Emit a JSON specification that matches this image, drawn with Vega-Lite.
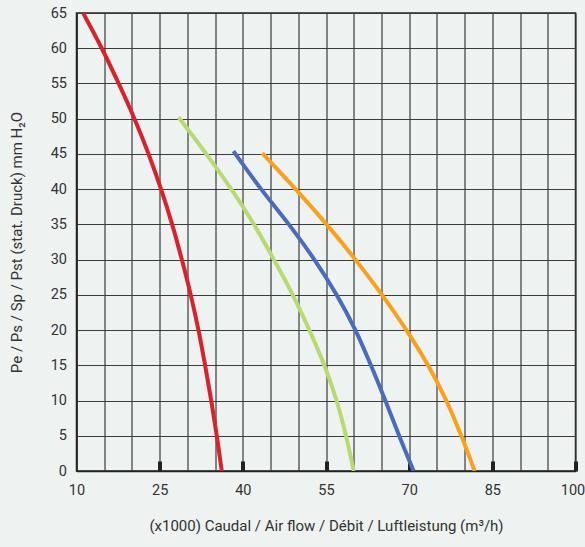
{
  "$schema": "https://vega.github.io/schema/vega-lite/v6.json",
  "autosize": "none",
  "width": 499,
  "height": 458,
  "padding": {"left": 76.5, "top": 13, "right": 9.5, "bottom": 76},
  "background": "#eef2f1",
  "config": {
    "font": "Roboto",
    "view": {"stroke": "#222222", "strokeWidth": 1.5},
    "axis": {"labelFont": "Roboto", "titleFont": "Roboto", "labelColor": "#333333", "titleColor": "#333333", "labelFontSize": 14.5, "titleFontSize": 15, "titleFontWeight": "normal", "domainColor": "#222222", "domainWidth": 1.5, "gridColor": "#3c3c3c", "gridWidth": 1.2, "gridOpacity": 1}
  },
  "data": {"values": [
    {"s": "a", "x": 11.2, "y": 65}, {"s": "a", "x": 14.55, "y": 60}, {"s": "a", "x": 17.6, "y": 55}, {"s": "a", "x": 20.45, "y": 50}, {"s": "a", "x": 23.0, "y": 45}, {"s": "a", "x": 25.25, "y": 40}, {"s": "a", "x": 27.25, "y": 35}, {"s": "a", "x": 29.0, "y": 30}, {"s": "a", "x": 30.6, "y": 25}, {"s": "a", "x": 32.0, "y": 20}, {"s": "a", "x": 33.2, "y": 15}, {"s": "a", "x": 34.3, "y": 10}, {"s": "a", "x": 35.3, "y": 5}, {"s": "a", "x": 36.2, "y": 0},
    {"s": "b", "x": 28.4, "y": 50.2}, {"s": "b", "x": 33.4, "y": 45}, {"s": "b", "x": 37.9, "y": 40}, {"s": "b", "x": 42.0, "y": 35}, {"s": "b", "x": 45.6, "y": 30}, {"s": "b", "x": 49.0, "y": 25}, {"s": "b", "x": 52.0, "y": 20}, {"s": "b", "x": 54.7, "y": 15}, {"s": "b", "x": 56.9, "y": 10}, {"s": "b", "x": 58.6, "y": 5}, {"s": "b", "x": 60.0, "y": 0},
    {"s": "c", "x": 38.3, "y": 45.4}, {"s": "c", "x": 43.3, "y": 40}, {"s": "c", "x": 48.3, "y": 35}, {"s": "c", "x": 52.9, "y": 30}, {"s": "c", "x": 56.9, "y": 25}, {"s": "c", "x": 60.3, "y": 20}, {"s": "c", "x": 63.1, "y": 15}, {"s": "c", "x": 65.7, "y": 10}, {"s": "c", "x": 68.2, "y": 5}, {"s": "c", "x": 70.8, "y": 0},
    {"s": "d", "x": 43.5, "y": 45.1}, {"s": "d", "x": 49.5, "y": 40}, {"s": "d", "x": 55.1, "y": 35}, {"s": "d", "x": 60.3, "y": 30}, {"s": "d", "x": 65.1, "y": 25}, {"s": "d", "x": 69.5, "y": 20}, {"s": "d", "x": 73.4, "y": 15}, {"s": "d", "x": 76.7, "y": 10}, {"s": "d", "x": 79.4, "y": 5}, {"s": "d", "x": 81.8, "y": 0}
  ]},
  "mark": {"type": "line", "interpolate": "catmull-rom", "strokeWidth": 4, "clip": true},
  "encoding": {
    "x": {"field": "x", "type": "quantitative",
      "scale": {"domain": [10, 100], "nice": false, "zero": false},
      "axis": {"title": "(x1000) Caudal / Air flow / Débit / Luftleistung (m³/h)",
        "values": [10,15,20,25,30,35,40,45,50,55,60,65,70,75,80,85,90,95,100],
        "labelExpr": "(datum.value - 10) % 15 == 0 ? datum.label : ''",
        "labelPadding": 22, "titlePadding": 22,
        "labelOffset": {"condition": {"test": "datum.value == 100", "value": -3}, "value": 0},
        "tickSize": -10, "tickWidth": 4, "tickColor": "#222222",
        "tickOpacity": {"condition": {"test": "(datum.value - 10) % 15 != 0 || datum.value == 10", "value": 0}, "value": 1},
        "labelFlush": false}},
    "y": {"field": "y", "type": "quantitative",
      "scale": {"domain": [0, 65], "nice": false},
      "axis": {"title": "Pe / Ps / Sp / Pst (stat. Druck) mm H₂O",
        "values": [0,5,10,15,20,25,30,35,40,45,50,55,60,65],
        "ticks": false, "labelPadding": 10, "titlePadding": 26}},
    "color": {"field": "s", "type": "nominal", "legend": null,
      "scale": {"domain": ["a", "b", "c", "d"], "range": ["#d9222c", "#b7da72", "#4a6cbd", "#f9a11c"]}}
  }
}
